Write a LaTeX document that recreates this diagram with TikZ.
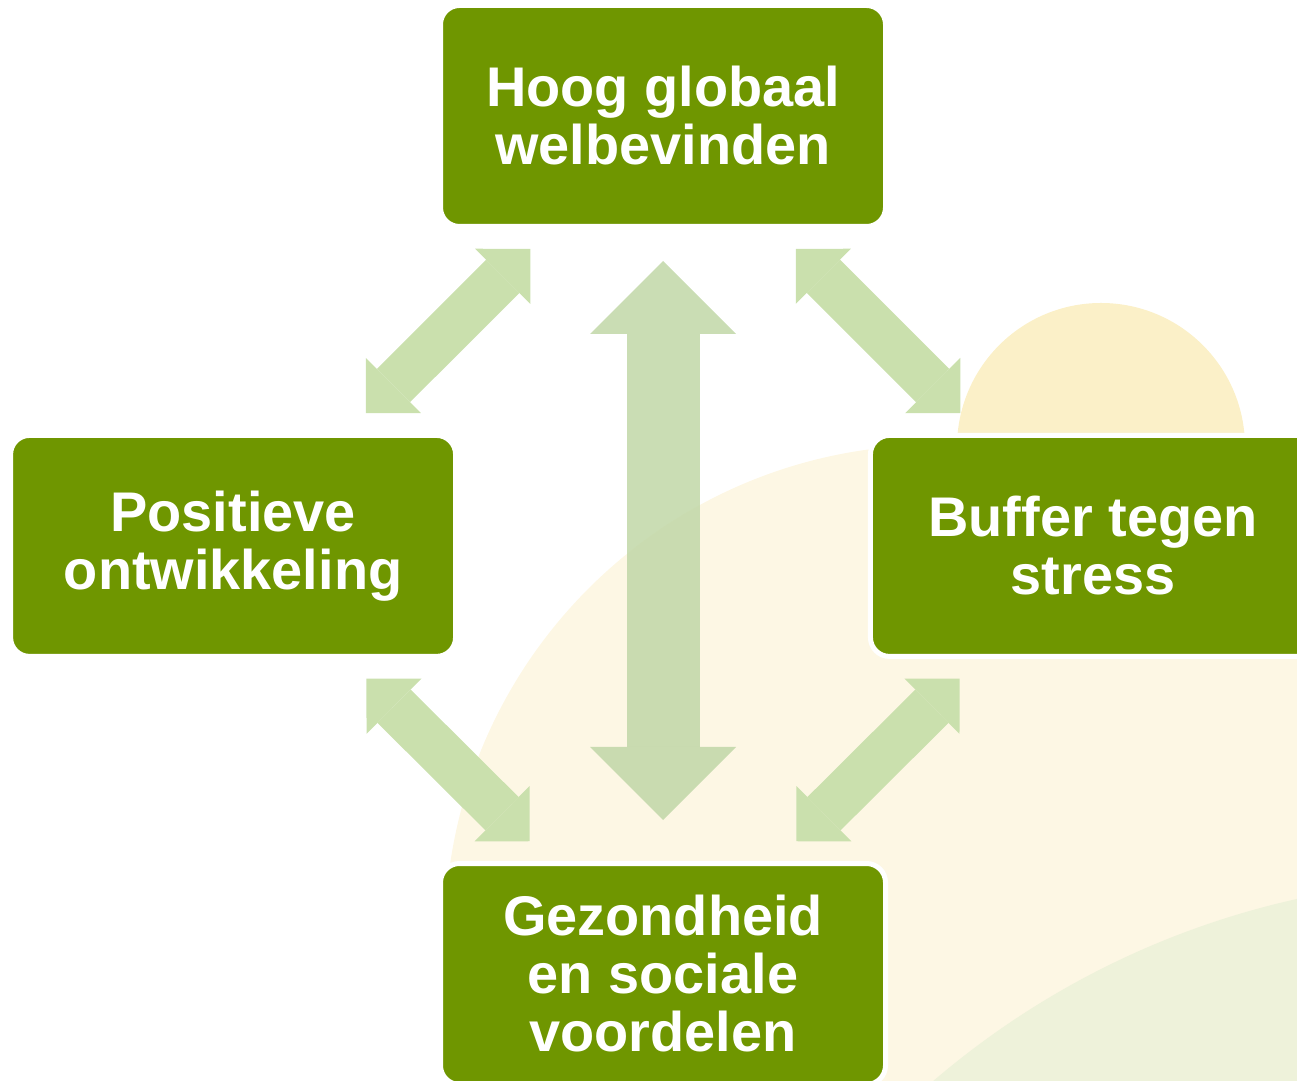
\documentclass[tikz,border=0pt]{standalone}
\usepackage{fontspec}
\setmainfont{Liberation Sans}
\usepackage{tikz}
\usetikzlibrary{positioning}
\usetikzlibrary{arrows.meta}
\definecolor{boxgreen}{RGB}{111,150,0}
\definecolor{linkgreen}{RGB}{202,224,173}
\definecolor{midgreen}{RGB}{193,215,167}
\definecolor{sunyellow}{RGB}{251,240,200}
\definecolor{paleyellow}{RGB}{253,247,228}
\definecolor{hillgreen}{RGB}{238,242,218}
\tikzset {
  node distance={6.08cm},
  % green box with a white rim
  box/.style = {draw=white, line width=0.05cm, fill=boxgreen, rounded corners=0.19cm,
    minimum width=4.45cm, minimum height=2.21cm, text=white, align=center,
    font=\bfseries\fontsize{15.9pt}{16.5pt}\selectfont},
  % arrow heads
  smallhead/.tip={Triangle[length=0.39cm, width=0.78cm, line width=0pt]},
  bighead/.tip={Triangle[length=0.73cm, width=1.46cm, line width=0pt]},
  % double arrows between the boxes
  link/.style={linkgreen, line width=0.47cm, smallhead-smallhead,
    shorten <=0.28cm, shorten >=0.28cm},
  % the long arrow in the middle
  midlink/.style={midgreen, opacity=0.85, line width=0.73cm, bighead-bighead,
    shorten <=0.32cm, shorten >=0.41cm},
}
\begin{document}
\begin{tikzpicture}
        \useasboundingbox (0,0) rectangle (12.97,-10.81);
        \clip (0,0) rectangle (12.97,-10.81);
        % background: field, hill and sun
        \fill[paleyellow] (9.35,-9.35) circle (4.9);
        \fill[hillgreen] (14.80,-17.20) circle (8.41);
        \fill[sunyellow] (11.01,-4.47) circle (1.44);

        \node[box] (hoog) at (6.63,-1.16) {Hoog globaal\\welbevinden};
        \node[box] (pos) [below left of=hoog] {Positieve\\ontwikkeling};
        \node[box] (buffer) [below right of=hoog] {Buffer tegen\\stress};
        \node[box] (gez) [below of=hoog, node distance=8.58cm] {Gezondheid\\en sociale\\voordelen};

        \draw[link] (pos) -- (hoog);
        \draw[link] (hoog) -- (buffer);
        \draw[link] (pos) -- (gez);
        \draw[link] (buffer) -- (gez);
        \draw[midlink] (hoog) -- (gez);
      \end{tikzpicture}
\end{document}
